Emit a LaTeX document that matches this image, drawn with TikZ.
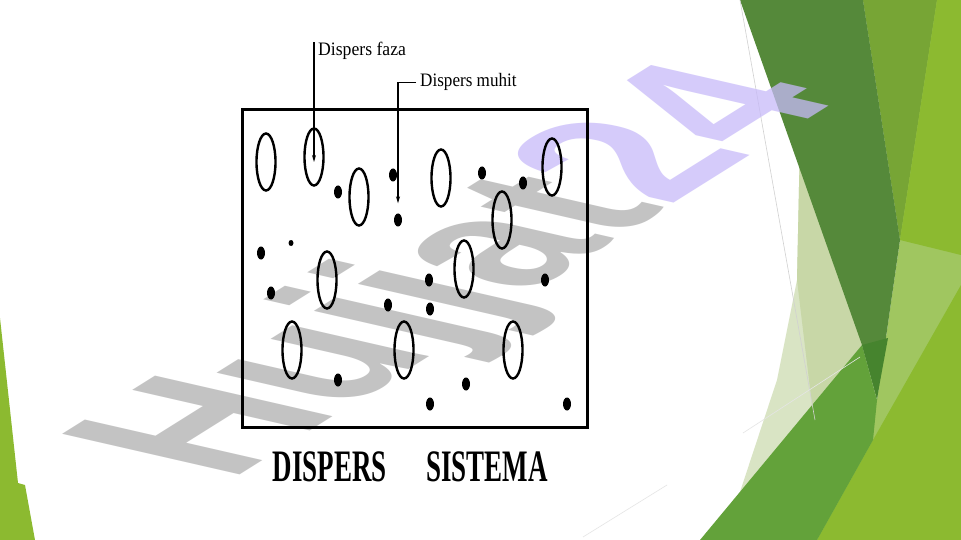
\documentclass[tikz,border=0pt]{standalone}
\usepackage{fontspec}
\setmainfont{Liberation Serif}
\newfontfamily\wmfont{Liberation Sans}
\usetikzlibrary{shapes.geometric,arrows.meta}
\definecolor{leafdark}{HTML}{55893A}
\definecolor{leafdeep}{HTML}{46842E}
\definecolor{leafolive}{HTML}{77A535}
\definecolor{leaflime}{HTML}{8CBA30}
\definecolor{leaflight}{HTML}{A0C660}
\definecolor{leafmid}{HTML}{63A23A}
\definecolor{leafpale}{HTML}{D9E4C4}
\definecolor{leafsage}{HTML}{C8D7A7}
\definecolor{wmgray}{HTML}{B0B0B0}
\definecolor{wmlav}{HTML}{C7BAF9}

\begin{document}
\begin{tikzpicture}[x=1pt,y=-1pt,
    faza/.style={draw,ellipse,line width=2.4pt,minimum width=19pt,minimum height=57pt,inner sep=0pt},
    muhit/.style={fill,ellipse,minimum width=8pt,minimum height=13pt,inner sep=0pt},
    lbl/.style={font=\fontsize{19}{19}\selectfont,inner sep=0pt},
    arr/.style={line width=1.3pt,-{Stealth[length=7pt,width=4pt]}}]
    \fill[white] (0,0) rectangle (961,540);
    \useasboundingbox (0,0) rectangle (961,540);
    % green facets
    \fill[leaflime] (0,318) -- (18,483) -- (25,485) -- (35,540) -- (0,540) -- cycle;
    \fill[leaflight] (863,0) -- (961,0) -- (961,540) -- (817,540) -- (877,400) -- (900,240) -- cycle;
    \fill[leafolive] (863,0) -- (937,0) -- (900,240) -- cycle;
    \fill[leaflime] (937,0) -- (961,0) -- (961,255) -- (900,240) -- cycle;
    \fill[leaflime] (817,540) -- (873,440) -- (961,285) -- (961,540) -- cycle;
    \fill[leafpale] (800,140) -- (862,345) -- (738,498) -- (777,380) -- (797,280) -- cycle;
    \fill[leafsage] (800,140) -- (862,345) -- (812,405) -- (797,280) -- cycle;
    \fill[leafdark] (740,0) -- (863,0) -- (900,240) -- (877,400) -- (862,345) -- cycle;
    \fill[leafmid] (700,540) -- (862,345) -- (877,400) -- (873,440) -- (817,540) -- cycle;
    \fill[leafdeep] (862,345) -- (888,338) -- (877,398) -- cycle;
    \draw[black!18,line width=0.6pt] (740,0) -- (815,420);
    \draw[black!10,line width=0.6pt] (743,433) -- (860,357);
    \draw[black!10,line width=0.6pt] (583,537) -- (667,485);
    % watermark
    \begin{scope}[shift={(229,482)},cm={1.58,0.99,-2.58,0.59,(0,0)}]
      \node[transform shape,anchor=base west,inner sep=0pt,text opacity=0.75,
        font=\wmfont\bfseries\fontsize{100}{100}\selectfont] (wm) at (0,0)
        {\textcolor{wmgray}{Hujjat}\textcolor{wmlav}{24}};
    \end{scope}
    % dispers sistema
    \draw[line width=3pt] (242,110) rectangle (587,427);
    \node[faza] (f1) at (266,162) {};
    \node[faza] (f2) at (314,157) {};
    \node[faza] (f3) at (359,197) {};
    \node[faza] (f4) at (441,178) {};
    \node[faza] (f5) at (552,167) {};
    \node[faza] (f6) at (502,220) {};
    \node[faza] (f7) at (327,280) {};
    \node[faza] (f8) at (464,269) {};
    \node[faza] (f9) at (292,350) {};
    \node[faza] (f10) at (404,350) {};
    \node[faza] (f11) at (513,350) {};
    \node[muhit] (m1) at (338,192) {};
    \node[muhit] (m2) at (393,175) {};
    \node[muhit] (m3) at (482,173) {};
    \node[muhit] (m4) at (523,183) {};
    \node[muhit] (m5) at (398,220) {};
    \node[muhit,minimum width=5pt,minimum height=6pt] (m6) at (291,243) {};
    \node[muhit] (m7) at (261,253) {};
    \node[muhit] (m8) at (271,293) {};
    \node[muhit] (m9) at (429,280) {};
    \node[muhit] (m10) at (545,280) {};
    \node[muhit] (m11) at (388,305) {};
    \node[muhit] (m12) at (430,309) {};
    \node[muhit] (m13) at (338,380) {};
    \node[muhit] (m14) at (466,384) {};
    \node[muhit] (m15) at (430,404) {};
    \node[muhit] (m16) at (567,404) {};
    \node[lbl,anchor=base west] (fazalbl) at (318,56) {\scalebox{0.93}[1]{Dispers faza}};
    \node[lbl,anchor=base west] (muhitlbl) at (420,87) {\scalebox{0.9}[1]{Dispers muhit}};
    \draw[arr] (f2.center |- fazalbl.north west) -- ([yshift=-5pt]f2.center);
    \draw[arr] ([xshift=-4pt]muhitlbl.west) -| ([yshift=10pt]m5.north);
    \node[inner sep=0pt,anchor=base,font=\fontsize{45}{45}\selectfont\bfseries] (dis) at (330,481) {\scalebox{0.6}[1]{DISPERS}};
    \node[inner sep=0pt,anchor=base,font=\fontsize{45}{45}\selectfont\bfseries] (sis) at (487,481) {\scalebox{0.6}[1]{SISTEMA}};
\end{tikzpicture}
\end{document}
